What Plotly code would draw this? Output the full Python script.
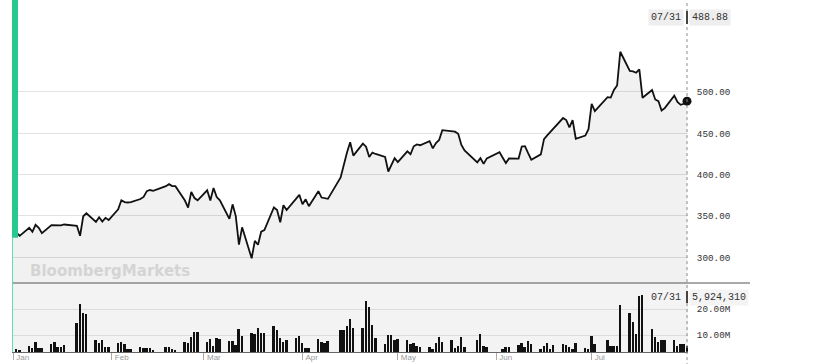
import plotly.graph_objects as go
import pandas as pd

# ---------------- data ----------------
holidays = ["2020-01-20", "2020-02-17", "2020-04-10", "2020-05-25", "2020-07-03"]
trade_days = [d for d in pd.bdate_range("2020-01-02", "2020-07-31")
              if d.strftime("%Y-%m-%d") not in holidays]
prev_date = pd.Timestamp("2019-12-31")
prev_close = 323.57

close_jan = [329.8, 325.9, 335.8, 330.8, 339.3, 335.7, 329.1, 338.9, 338.7, 339.1, 338.6,
             339.7, 338.1, 326.0, 349.6, 353.2, 342.9, 348.5, 343.2, 347.7, 345.1]
close_feb = [358.0, 369.0, 366.8, 366.3, 366.8, 370.5, 373.0, 380.0, 381.4, 380.4, 386.0,
             388.5, 386.2, 386.0, 368.7, 360.1, 379.2, 371.7, 369.0]
close_mar = [381.1, 368.8, 383.8, 372.8, 369.0, 346.5, 364.1, 349.9, 315.3, 336.3, 298.8,
             319.8, 315.2, 331.0, 332.8, 360.3, 357.3, 342.4, 363.0, 357.1, 371.0, 375.5]
close_apr = [364.1, 370.1, 361.8, 380.0, 372.3, 371.1, 370.7, 396.7, 413.6, 426.8, 439.2,
             423.0, 437.5, 433.8, 421.4, 426.7, 425.0, 421.4, 403.8, 411.9, 419.9]
close_may = [415.3, 428.2, 424.7, 434.3, 436.5, 435.6, 440.5, 431.8, 438.3, 442.0, 453.8,
             452.6, 452.0, 449.5, 436.0, 429.3, 414.8, 419.9, 413.0, 419.7]
close_jun = [425.9, 427.3, 420.5, 414.0, 419.6, 419.5, 434.1, 434.5, 426.0, 418.1, 424.5,
             443.0, 447.5, 451.5, 455.5, 468.5, 466.0, 457.3, 466.0, 443.4, 447.2, 455.0]
close_jul = [485.6, 476.9, 493.8, 493.2, 502.4, 507.8, 548.7, 525.5, 524.9, 523.3, 527.4,
             493.0, 502.4, 491.0, 489.0, 477.6, 480.5, 495.6, 488.0, 484.5, 485.8, 488.88]

vol_jan = [4.5, 4.1, 5.8, 4.9, 7.3, 5.0, 5.0, 6.5, 7.3, 5.4, 5.3, 6.3, 14.5, 21.8, 18.3, 18.1,
           7.9, 7.0, 7.9, 5.5, 5.5]
vol_feb = [6.8, 7.3, 6.5, 4.5, 4.7, 5.5, 5.0, 4.9, 4.9, 4.2, 5.4, 5.3, 4.5, 4.2, 7.2, 6.8, 9.1,
           11.2, 11.2]
vol_mar = [7.2, 8.5, 5.8, 9.0, 8.5, 7.8, 7.8, 6.3, 12.2, 9.5, 10.6, 10.4, 12.6, 10.8, 10.9,
           13.5, 11.9, 9.0, 7.4, 8.1, 8.8, 9.6]
vol_apr = [6.8, 5.0, 5.1, 8.3, 7.2, 7.0, 7.8, 11.8, 11.8, 13.6, 16.2, 12.6, 12.6, 23.1, 20.9,
           13.8, 8.8, 6.4, 10.1, 9.9, 8.1]
vol_may = [8.5, 7.9, 6.4, 6.8, 5.8, 5.3, 5.5, 4.7, 7.0, 9.1, 7.4, 7.9, 4.9, 5.8, 9.1, 5.5,
           7.9, 10.5, 5.8, 5.5]
vol_jun = [3.6, 3.5, 4.5, 5.5, 5.5, 6.1, 7.0, 5.3, 7.7, 6.5, 4.6, 5.8, 6.8, 4.6, 6.1, 6.4,
           6.1, 5.3, 4.6, 6.9, 5.0, 4.5]
vol_jul = [9.8, 6.5, 8.1, 5.8, 5.8, 5.9, 21.5, 18.3, 15.1, 10.2, 24.9, 25.2, 12.2, 9.1, 7.2,
           7.9, 7.9, 8.1, 5.8, 6.5, 6.5, 5.924310]

price_ticks = [300, 350, 400, 450, 500]
vol_ticks = [10, 20]
vol_tick_labels = ["10.00M", "20.00M"]
month_ticks = ["2020-01-01", "2020-02-01", "2020-03-01", "2020-04-01",
               "2020-05-01", "2020-06-01", "2020-07-01"]
month_labels = ["Jan", "Feb", "Mar", "Apr", "May", "Jun", "Jul"]
last_label_date = "07/31"
last_volume_text = "5,924,310"

close = close_jan + close_feb + close_mar + close_apr + close_may + close_jun + close_jul
vol = vol_jan + vol_feb + vol_mar + vol_apr + vol_may + vol_jun + vol_jul

# ---------------- figure ----------------
W, H = 830, 364
ML, MR, MT, MB = 12, 142, 0, 12
split = (H - MB - 283) / (H - MT - MB)   # paper y of separator

price_range = [268.9, 611.3]
vol_range = [3.46, 30.0]
x_range = ["2019-12-31 14:00", "2020-07-31 07:30"]
mono = "Liberation Mono"

fig = go.Figure()
fig.add_trace(go.Scatter(
    x=[prev_date] + trade_days, y=[prev_close] + close, mode="lines",
    line=dict(color="#111111", width=1.8), fill="tozeroy",
    fillcolor="rgba(0,0,0,0.055)", xaxis="x", yaxis="y", hoverinfo="skip"))
fig.add_trace(go.Scatter(
    x=[trade_days[-1]], y=[close[-1]], mode="markers",
    marker=dict(color="#111111", size=9), cliponaxis=False,
    xaxis="x", yaxis="y", hoverinfo="skip"))
fig.add_trace(go.Bar(
    x=trade_days, y=vol, marker=dict(color="#111111", line=dict(width=0)),
    width=0.6 * 86400000, xaxis="x", yaxis="y2", hoverinfo="skip"))

last_day = trade_days[-1]

shapes = [
    # volume panel background
    dict(type="rect", xref="paper", yref="paper", x0=0, x1=1, y0=0, y1=split,
         fillcolor="#f3f3f3", line=dict(width=0), layer="below"),
    # separator line
    dict(type="line", xref="paper", yref="paper", x0=0, x1=(750 - ML) / (W - ML - MR),
         y0=split, y1=split, line=dict(color="#555555", width=1.2)),
    # dotted vertical cursor line
    dict(type="line", xref="x", yref="paper", x0=last_day, x1=last_day, y0=-0.04, y1=1,
         line=dict(color="#8a8a8a", width=1, dash="dot")),
    # thick green bar
    dict(type="rect", xref="paper", yref="y", x0=0, x1=6 / (W - ML - MR),
         y0=prev_close, y1=price_range[1], fillcolor="#27c98f", line=dict(width=0)),
    # thin green line
    dict(type="line", xref="paper", yref="y", x0=0.0008, x1=0.0008,
         y0=price_range[0], y1=prev_close, line=dict(color="#5fdcb0", width=1)),
    dict(type="line", xref="paper", yref="paper", x0=0.0008, x1=0.0008,
         y0=0, y1=split, line=dict(color="#5fdcb0", width=1)),
    # dark marks at label positions
    dict(type="line", xref="x", yref="paper", x0=last_day, x1=last_day,
         y0=(H - MB - 24) / (H - MB), y1=(H - MB - 11) / (H - MB),
         line=dict(color="#444444", width=2)),
    dict(type="line", xref="x", yref="paper", x0=last_day, x1=last_day,
         y0=(H - MB - 303) / (H - MB), y1=(H - MB - 291) / (H - MB),
         line=dict(color="#444444", width=2)),
]

tick_font = dict(family=mono, size=9.3, color="#333333")
lab_font = dict(family=mono, size=10, color="#333333")
y_top = (H - MB - 17.5) / (H - MB)
y_vol = (H - MB - 297) / (H - MB)
annotations = [
    dict(text=last_label_date, x=last_day, xref="x", y=y_top, yref="paper",
         xanchor="right", yanchor="middle", xshift=-3, showarrow=False,
         bgcolor="#eeeeee", borderpad=2, font=lab_font),
    dict(text=f"{close[-1]:.2f}", x=last_day, xref="x", y=y_top, yref="paper",
         xanchor="left", yanchor="middle", xshift=2, showarrow=False,
         bgcolor="#eeeeee", borderpad=2, font=lab_font),
    dict(text=last_label_date, x=last_day, xref="x", y=y_vol, yref="paper",
         xanchor="right", yanchor="middle", xshift=-3, showarrow=False,
         bgcolor="#f4f4f4", borderpad=2, font=lab_font),
    dict(text=last_volume_text, x=last_day, xref="x", y=y_vol, yref="paper",
         xanchor="left", yanchor="middle", xshift=2, showarrow=False,
         bgcolor="#f4f4f4", borderpad=2, font=lab_font),
    dict(text="BloombergMarkets", x=(28 - ML) / (W - ML - MR), xref="paper",
         y=(H - MB - 270.5) / (H - MB), yref="paper", xanchor="left", yanchor="middle",
         showarrow=False,
         font=dict(family="DejaVu Sans", size=15, color="#d4d4d4", weight="bold")),
]

fig.update_layout(
    width=W, height=H, margin=dict(l=ML, r=MR, t=MT, b=MB),
    paper_bgcolor="white", plot_bgcolor="rgba(0,0,0,0)",
    showlegend=False, hovermode=False, bargap=0,
    xaxis=dict(domain=[0, 1], anchor="y2", type="date", range=x_range,
               showgrid=False, zeroline=False, showline=True, linecolor="#666666",
               linewidth=1, ticks="outside", ticklen=7, tickcolor="#aaaaaa", tickwidth=1,
               tickvals=month_ticks, ticktext=month_labels,
               ticklabelposition="outside right", ticklabelstandoff=-3, ticklabelshift=2,
               tickfont=dict(family="Liberation Sans", size=8, color="#999999")),
    yaxis=dict(domain=[split, 1], anchor="x", side="right", range=price_range,
               tickvals=price_ticks, ticktext=[f"{v:.2f}" for v in price_ticks],
               showgrid=True, gridcolor="#e2e2e2", gridwidth=1, zeroline=False,
               showline=False, ticks="outside", ticklen=6, tickcolor="rgba(0,0,0,0)",
               tickfont=tick_font),
    yaxis2=dict(domain=[0, split], anchor="x", side="right", range=vol_range,
                tickvals=vol_ticks, ticktext=vol_tick_labels,
                showgrid=True, gridcolor="#dcdcdc", gridwidth=1, zeroline=False,
                showline=False, ticks="outside", ticklen=6, tickcolor="rgba(0,0,0,0)",
                tickfont=tick_font),
    shapes=shapes, annotations=annotations,
)

fig.write_html("out.html")
